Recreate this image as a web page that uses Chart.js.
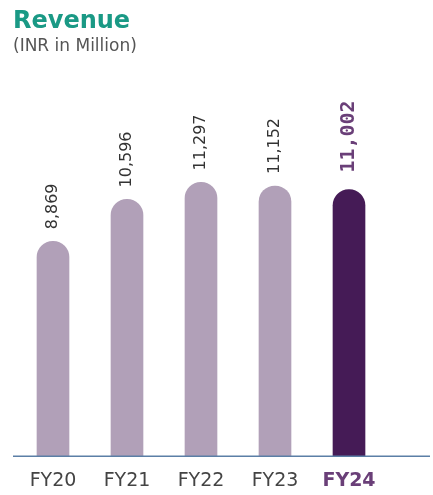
<!DOCTYPE html>
<html>
<head>
<meta charset="utf-8">
<script src="https://cdn.jsdelivr.net/npm/chart.js@4/dist/chart.umd.min.js"></script>
<style>
  html, body { margin: 0; padding: 0; background: #fff; }
  #wrap { position: relative; width: 433px; height: 495px; }
  #chart { position: absolute; left: 0; top: 0; }
  .title { position: absolute; left: 13px; top: 8px; font: bold 24px/24px 'DejaVu Sans', sans-serif; color: #1a9985; }
  .subtitle { position: absolute; left: 13px; top: 37px; font: 17px/17px 'DejaVu Sans', sans-serif; color: #555; }
</style>
</head>
<body>
<div id="wrap">
  <canvas id="chart" width="433" height="495"></canvas>
  <div class="title">Revenue</div>
  <div class="subtitle">(INR in Million)</div>
</div>
<script>
const years = ['FY20', 'FY21', 'FY22', 'FY23', 'FY24'];
const revenue = [8869, 10596, 11297, 11152, 11002];

const BAR_LIGHT = '#b1a0b8';
const BAR_DARK = '#451b56';
const HIGHLIGHT = '#6a3f78';
const last = years.length - 1;

// rotated value labels sitting on top of each bar
const valueLabels = {
  id: 'valueLabels',
  afterDatasetsDraw(chart) {
    const ctx = chart.ctx;
    const meta = chart.getDatasetMeta(0);
    meta.data.forEach((bar, i) => {
      const isLast = i === last;
      ctx.save();
      ctx.translate(bar.x, bar.y - (isLast ? 17 : 12));
      ctx.rotate(-Math.PI / 2);
      ctx.textAlign = 'left';
      ctx.textBaseline = 'middle';
      ctx.font = isLast ? "bold 20px 'DejaVu Sans Mono', monospace" : "16px 'DejaVu Sans', sans-serif";
      ctx.fillStyle = isLast ? HIGHLIGHT : '#333';
      ctx.fillText(revenue[i].toLocaleString('en-US'), 0, 0);
      ctx.restore();
    });
  }
};

// baseline runs wider than the plotted categories
const baseLine = {
  id: 'baseLine',
  afterDatasetsDraw(chart) {
    const { ctx, chartArea } = chart;
    ctx.save();
    ctx.strokeStyle = '#5b7fa6';
    ctx.lineWidth = 1.5;
    ctx.beginPath();
    ctx.moveTo(13, chartArea.bottom);
    ctx.lineTo(430, chartArea.bottom);
    ctx.stroke();
    ctx.restore();
  }
};

new Chart(document.getElementById('chart'), {
  type: 'bar',
  data: {
    labels: years,
    datasets: [{
      data: revenue,
      backgroundColor: years.map((_, i) => i === last ? BAR_DARK : BAR_LIGHT),
      barThickness: 32,
      borderRadius: 16,
      borderSkipped: 'start'
    }]
  },
  options: {
    responsive: false,
    animation: false,
    layout: { padding: { top: 60, left: 16, right: 47, bottom: -10 } },
    plugins: {
      legend: { display: false },
      tooltip: { enabled: false }
    },
    scales: {
      x: {
        grid: { display: false, drawTicks: false },
        border: { display: false },
        ticks: {
          padding: 13,
          color: (c) => c.index === last ? HIGHLIGHT : '#444',
          font: (c) => ({ family: "'DejaVu Sans', sans-serif", size: 19, weight: c.index === last ? 'bold' : 'normal' })
        }
      },
      y: { display: false, min: 0, max: 16350 }
    }
  },
  plugins: [baseLine, valueLabels]
});
</script>
</body>
</html>
